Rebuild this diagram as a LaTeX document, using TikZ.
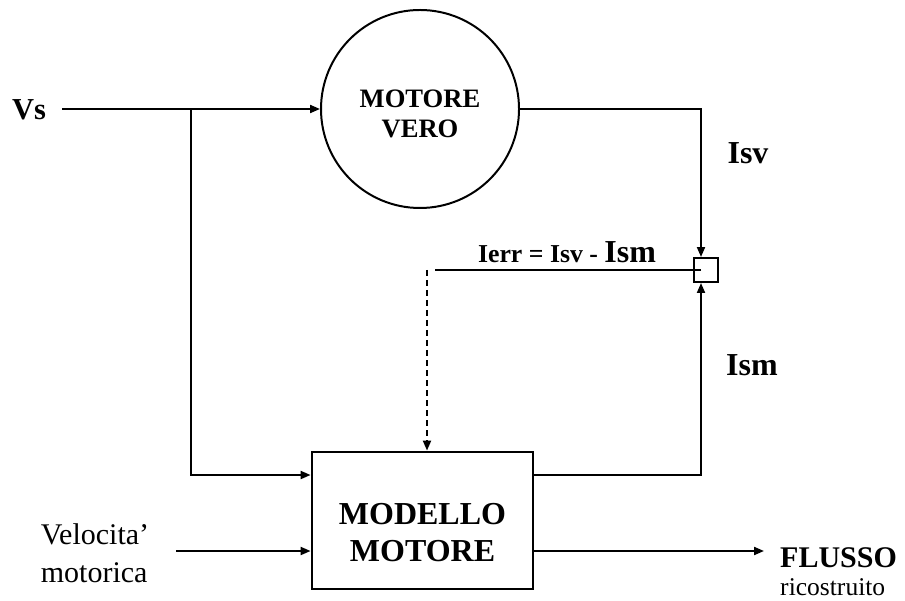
\documentclass[tikz,border=0pt]{standalone}
\usepackage{fontspec}
\setmainfont{Liberation Serif}
\usetikzlibrary{positioning,arrows.meta,calc}
\tikzset{
  motor/.style = {circle, draw, line width=1.7pt, minimum size=5.94cm, inner sep=0pt, align=center,
                  text height=49pt, font=\fontsize{22.7}{25.6}\selectfont\bfseries},
  block/.style = {draw, line width=2.4pt, minimum width=6.63cm, minimum height=4.11cm, align=center,
                  text height=70pt, font=\fontsize{27.3}{31.6}\selectfont\bfseries},
  junc/.style  = {draw, line width=1.7pt, minimum size=0.72cm, inner sep=0pt},
  wire/.style  = {line width=1.7pt},
  feed/.style  = {->, line width=1.7pt, >={Triangle[length=0.3cm, width=0.24cm]}},
  dline/.style = {->, line width=1.7pt, dash pattern=on 0.18cm off 0.12cm,
                  >={Triangle[length=0.3cm, width=0.24cm]}},
  sig/.style   = {font=\fontsize{27.3}{30}\selectfont\bfseries, inner sep=0pt},
  txt/.style   = {font=\fontsize{25.6}{32.4}\selectfont, align=left, inner sep=0pt},
}

\begin{document}
\begin{tikzpicture}[x=0.03cm,y=-0.03cm]
\useasboundingbox (0,0) rectangle (905,601);

% ------------------------------------------------------------------ blocks
\node[motor] (motor) at (420,109) {MOTORE\\VERO};
\node[block] (model) at (422.5,520.5) {MODELLO\\MOTORE};
\node[junc]  (sq)    at (706,270) {};

% ------------------------------------------------------------------ labels
\node[sig, font=\fontsize{26}{30}\selectfont\bfseries] (vs) at (29,110) {Vs};
\node[sig] (isv) at (748,153) {Isv};
\node[sig] (ism) at (752,365) {Ism};
\node[font=\fontsize{22}{26}\selectfont\bfseries, inner sep=0pt, anchor=base] (ierr) at (567,263)
  {Ierr = Isv - {\fontsize{27.3}{30}\selectfont Ism}};
\node[txt] (vel) at (95,553) {Velocita’\\motorica};
\node[font=\fontsize{25.6}{30}\selectfont\bfseries, inner sep=0pt, anchor=base west] (fl) at (780,567) {FLUSSO};
\node[font=\fontsize{21.8}{26}\selectfont, inner sep=0pt, anchor=base west] (rico) at (780,595) {ricostruito};

% ------------------------------------------------------------------ wires
\coordinate (vsOut)  at (62,109);
\coordinate (split)  at (191,109);
\coordinate (tap)    at (191,475);
\coordinate (velOut) at (176,551);
\coordinate (flIn)   at (764,551);
\coordinate (errEnd) at (435,270);
\coordinate (errTop) at (427,270);

\draw[wire] (vsOut) -- (split);
\draw[feed] (split) -- (motor.west);
\draw[feed] (split) -- (tap) -- (tap -| model.west);
\draw[feed] (motor.east) -| ([xshift=-0.15cm]sq.north);
\draw[feed] (tap -| model.east) -| ([xshift=-0.15cm]sq.south);
\draw[wire] ([xshift=-0.15cm]sq.center) -- (errEnd);
\draw[dline] (errTop) -- (errTop |- model.north);
\draw[feed] (velOut) -- (velOut -| model.west);
\draw[feed] (velOut -| model.east) -- (flIn);

\end{tikzpicture}
\end{document}
